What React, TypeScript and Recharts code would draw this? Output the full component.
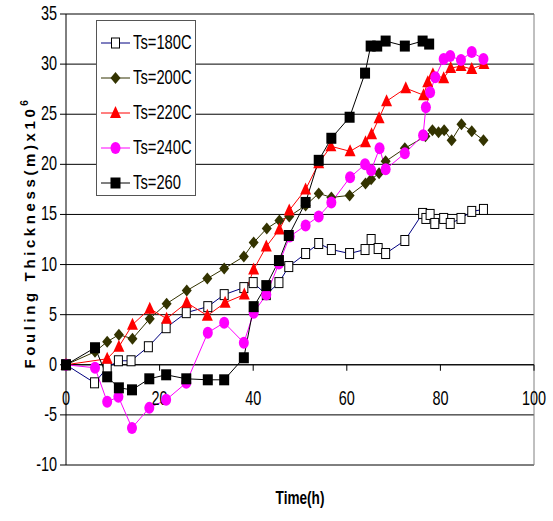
import { CartesianGrid, Legend, Line, LineChart, ReferenceDot, ReferenceLine, XAxis, YAxis } from "recharts"

// hours / thickness (m x 10^6) per surface temperature
const time180 = [0, 6.1, 8.8, 11.2, 13.9, 17.6, 21.4, 25.7, 30.3, 33.8, 38, 40, 42.8, 45.5, 47.6, 51.2, 54, 56.7, 60.6, 63.9, 65.2, 66.7, 68.3, 72.4, 76.2, 76.9, 77.8, 78.8, 80.7, 82.1, 84.4, 86.7, 89.2]
const thick180 = [0, -1.8, -0.3, 0.4, 0.4, 1.8, 3.7, 5.2, 5.8, 7.0, 7.7, 8.2, 7.0, 8.2, 9.8, 11.1, 12.1, 11.5, 11.1, 11.5, 12.5, 11.6, 11.1, 12.4, 15.1, 14.6, 15.0, 14.1, 14.6, 14.1, 14.6, 15.3, 15.5]

const time200 = [0, 6.2, 8.8, 11.3, 14.2, 17.9, 21.5, 25.8, 30.2, 33.8, 38, 40.1, 42.9, 45.6, 47.7, 51.2, 54, 56.7, 60.6, 64, 65.2, 66.9, 68.3, 72.4, 76.8, 78.3, 79.6, 80.8, 82.4, 84.5, 86.7, 89.2]
const thick200 = [0, 1.3, 2.3, 3.0, 2.6, 4.6, 6.1, 7.4, 8.6, 9.6, 10.8, 12.2, 13.6, 14.4, 14.8, 15.9, 17.1, 16.7, 16.9, 18.1, 18.5, 19.1, 20.3, 21.6, 22.8, 23.4, 23.2, 23.4, 22.4, 24.0, 23.3, 22.4]

const time220 = [0, 8.8, 11.3, 14.2, 17.9, 21.5, 25.8, 30.2, 34, 38.1, 40.1, 42.8, 45.6, 47.7, 51.2, 54, 56.6, 60.7, 64, 65.3, 66.9, 68.5, 72.6, 76.4, 77.3, 78.4, 80.7, 82.2, 84.4, 86.7, 89.3]
const thick220 = [0, 0.6, 1.8, 4.0, 5.6, 4.6, 6.2, 4.9, 6.2, 7.0, 9.5, 11.8, 13.5, 15.4, 17.5, 20.1, 21.8, 21.3, 22.2, 23.0, 24.6, 26.3, 27.6, 26.9, 28.2, 29.0, 28.6, 29.6, 29.8, 29.5, 30.0]

const time240 = [0, 6.2, 8.8, 11.2, 14.1, 17.8, 21.4, 25.7, 30.3, 33.8, 38, 40.1, 42.8, 45.5, 47.8, 51.2, 54, 56.7, 60.7, 63.9, 65.2, 67, 68.3, 72.4, 76.3, 76.9, 77.8, 78.9, 80.7, 82.1, 84.4, 86.7, 89.2]
const thick240 = [0, -0.3, -3.7, -3.2, -6.3, -4.3, -3.5, -1.8, 3.2, 4.2, 2.2, 5.2, 7.0, 10.1, 12.8, 13.9, 14.8, 16.2, 18.7, 20.0, 19.4, 21.6, 19.5, 21.1, 22.9, 25.7, 27.2, 28.7, 30.5, 30.8, 30.4, 31.2, 30.5]

const time260 = [0, 6.2, 8.8, 11.3, 14.1, 17.8, 21.4, 25.7, 30.3, 33.8, 38, 40.1, 42.8, 45.5, 47.6, 51.2, 54, 56.7, 60.6, 63.9, 65.1, 66.5, 68.3, 72.4, 76.2, 77.6]
const thick260 = [0, 1.7, -1.2, -2.3, -2.5, -1.4, -1.0, -1.4, -1.5, -1.5, 0.7, 5.8, 7.9, 10.4, 12.9, 16.2, 20.4, 22.6, 24.7, 29.1, 31.8, 31.8, 32.3, 31.8, 32.3, 32.0]

const yTicks = [-10, -5, 0, 5, 10, 15, 20, 25, 30, 35]
const xTicks = [0, 20, 40, 60, 80, 100]

const FONT = "'Liberation Sans', Arial, sans-serif"

const toPoints = (time: number[], thick: number[]) => time.map((t, i) => ({ t, f: thick[i] }))

const series = [
  { name: "Ts=180C", data: toPoints(time180, thick180), color: "#000080", marker: "openSquare" },
  { name: "Ts=200C", data: toPoints(time200, thick200), color: "#333300", marker: "diamond" },
  { name: "Ts=220C", data: toPoints(time220, thick220), color: "#ff0000", marker: "triangle" },
  { name: "Ts=240C", data: toPoints(time240, thick240), color: "#ff00ff", marker: "circle" },
  { name: "Ts=260", data: toPoints(time260, thick260), color: "#000000", marker: "square" },
]

function Marker({ cx, cy, kind, color }: { cx: number; cy: number; kind: string; color: string }) {
  if (kind === "openSquare") return <rect x={cx - 4} y={cy - 5} width={8} height={10} fill="#fff" stroke="#000" strokeWidth={1} />
  if (kind === "square") return <rect x={cx - 5} y={cy - 5.5} width={10} height={11} fill="#000" />
  if (kind === "diamond") return <polygon points={`${cx},${cy - 6} ${cx + 5},${cy} ${cx},${cy + 6} ${cx - 5},${cy}`} fill={color} />
  if (kind === "triangle") return <polygon points={`${cx},${cy - 7} ${cx + 5.5},${cy + 5} ${cx - 5.5},${cy + 5}`} fill={color} />
  return <ellipse cx={cx} cy={cy} rx={5} ry={6} fill={color} />
}

function LegendBox() {
  return (
    <div style={{ width: 100, height: 176, border: "1px solid #555", background: "#fff", boxSizing: "border-box", paddingTop: 4 }}>
      {series.map((s) => (
        <div key={s.name} style={{ display: "flex", alignItems: "center", height: 35 }}>
          <svg width={36} height={20} style={{ flex: "none" }}>
            <line x1={4} x2={33} y1={10} y2={10} stroke={s.color} strokeWidth={1} />
            <Marker cx={18.5} cy={10} kind={s.marker} color={s.color} />
          </svg>
          <span
            style={{
              fontFamily: FONT,
              fontSize: 18,
              color: "#000",
              display: "inline-block",
              whiteSpace: "nowrap",
              transform: "scale(0.82,1.15)",
              transformOrigin: "left center",
            }}
          >
            {s.name}
          </span>
        </div>
      ))}
    </div>
  )
}

export default function App() {
  return (
    <div style={{ position: "absolute", left: 0, top: 0, background: "#fff" }}>
      <LineChart width={553} height={521} margin={{ top: 14, right: 19, bottom: 0, left: 0 }}>
        <CartesianGrid vertical={false} stroke="#000" strokeWidth={1} />
        <XAxis
          type="number"
          dataKey="t"
          domain={[0, 100]}
          ticks={xTicks}
          tick={false}
          axisLine={false}
          tickLine={false}
          height={56}
          label={{
            content: ({ viewBox }: any) => (
              <text
                transform={`translate(${viewBox.x + viewBox.width / 2},${viewBox.y + 39}) scale(0.85,1.2)`}
                textAnchor="middle"
                fontFamily={FONT}
                fontWeight="bold"
                fontSize={16}
                fill="#000"
              >
                Time(h)
              </text>
            ),
          }}
        />
        <YAxis
          type="number"
          dataKey="f"
          domain={[-10, 35]}
          ticks={yTicks}
          width={66}
          axisLine={{ stroke: "#000" }}
          tickLine={{ stroke: "#000" }}
          tickSize={6}
          tickMargin={3}
          tick={({ x, y, payload }: any) => (
            <text transform={`translate(${x},${y}) scale(0.85,1.2)`} textAnchor="end" dy={5} fontFamily={FONT} fontSize={17} fill="#000">
              {payload.value}
            </text>
          )}
          label={{
            content: ({ viewBox }: any) => (
              <text
                transform={`translate(${viewBox.x + 35},${viewBox.y + viewBox.height / 2 - 7}) rotate(-90)`}
                textAnchor="middle"
                fontFamily={FONT}
                fontWeight="bold"
                fontSize={15}
                letterSpacing={3.6}
                fill="#000"
              >
                Fouling Thickness(m)x10<tspan dy={-7} fontSize={10}>6</tspan>
              </text>
            ),
          }}
        />
        <ReferenceLine y={35} stroke="#808080" />
        <ReferenceLine y={-10} stroke="#808080" />
        <ReferenceLine x={100} stroke="#808080" />
        <ReferenceLine y={0} stroke="#000" />
        {xTicks.map((t) => (
          <ReferenceDot
            key={t}
            x={t}
            y={0}
            ifOverflow="visible"
            shape={({ cx, cy }: any) => (
              <g>
                <line x1={cx} x2={cx} y1={cy} y2={cy + 6} stroke="#000" />
                <text transform={`translate(${cx},${cy + 40}) scale(0.85,1.2)`} textAnchor="middle" fontFamily={FONT} fontSize={17} fill="#000">
                  {t}
                </text>
              </g>
            )}
          />
        ))}
        <Legend layout="horizontal" verticalAlign="middle" align="center" wrapperStyle={{ left: 96, top: 20, width: 100, height: 176 }} content={() => <LegendBox />} />
        {series.map((s) => (
          <Line
            key={s.name}
            data={s.data}
            dataKey="f"
            name={s.name}
            type="linear"
            stroke={s.color}
            strokeWidth={1}
            isAnimationActive={false}
            dot={(p: any) => <Marker key={`${s.name}-${p.index}`} cx={p.cx} cy={p.cy} kind={s.marker} color={s.color} />}
            activeDot={false}
          />
        ))}
      </LineChart>
    </div>
  )
}
